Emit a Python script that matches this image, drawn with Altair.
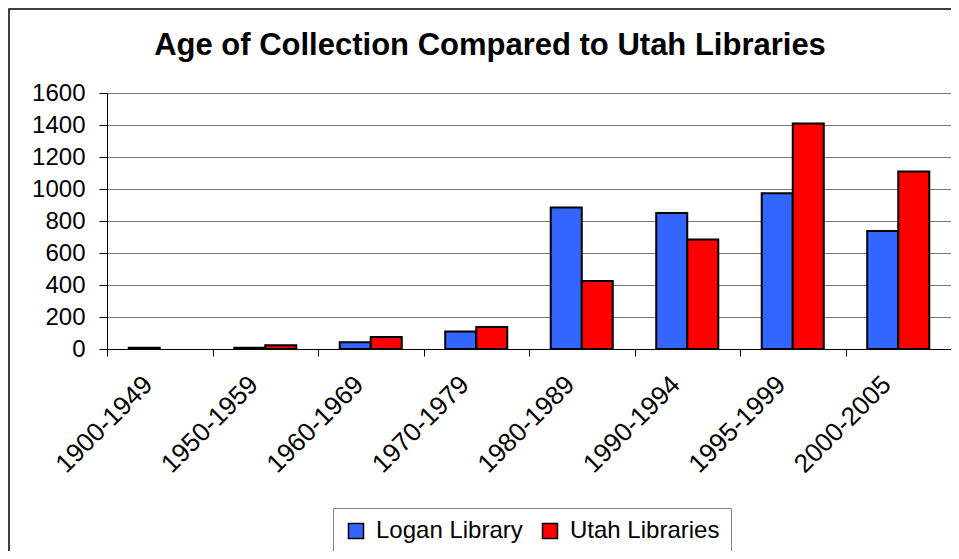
import altair as alt
import pandas as pd

periods = ["1900-1949", "1950-1959", "1960-1969", "1970-1979",
           "1980-1989", "1990-1994", "1995-1999", "2000-2005"]
logan = [8, 8, 42, 110, 885, 850, 973, 737]
utah = [0, 24, 75, 137, 425, 685, 1410, 1110]
series = ["Logan Library", "Utah Libraries"]
colors = ["#3366FF", "#FF0000"]
y_ticks = [0, 200, 400, 600, 800, 1000, 1200, 1400, 1600]

rows = []
for p, l, u in zip(periods, logan, utah):
    rows.append({"period": p, "series": series[0], "value": l})
    rows.append({"period": p, "series": series[1], "value": u})
df = pd.DataFrame(rows)

FONT = "Liberation Sans"

bars = alt.Chart(df).transform_filter("datum.value > 0").mark_bar(
    stroke="black", strokeWidth=2
).encode(
    x=alt.X("period:N", sort=periods,
            scale=alt.Scale(domain=periods, paddingInner=0, paddingOuter=0),
            axis=alt.Axis(title=None, labelAngle=-45, tickBand="extent",
                          grid=False, labelFontSize=26, labelFont=FONT,
                          labelColor="black", labelOffset=-21, labelPadding=15,
                          tickSize=7, tickColor="black", domainColor="black",
                          labelOverlap=False)),
    xOffset=alt.XOffset("series:N", sort=series,
                        scale=alt.Scale(domain=series, paddingInner=0, paddingOuter=0.7)),
    y=alt.Y("value:Q", scale=alt.Scale(domain=[0, 1600], nice=False),
            axis=alt.Axis(title=None, values=y_ticks, format="d", grid=True,
                          gridColor="#777777", gridWidth=1, labelFontSize=24,
                          labelFont=FONT, labelColor="black", labelPadding=14,
                          tickSize=8, tickColor="black", domainColor="black")),
    color=alt.Color("series:N",
                    scale=alt.Scale(domain=series, range=colors),
                    legend=alt.Legend(title=None, orient="none", legendX=226, legendY=415,
                                      direction="horizontal", columns=2,
                                      symbolType="square", symbolSize=225,
                                      symbolStrokeColor="black", symbolStrokeWidth=1.5,
                                      symbolOpacity=1,
                                      labelFontSize=24, labelFont=FONT, labelColor="black",
                                      labelOffset=8, columnPadding=15,
                                      strokeColor="#808080", fillColor="white",
                                      padding=11)),
)

frame = alt.Chart(pd.DataFrame({"a": [0]})).mark_rect(
    fill="transparent", stroke="black", strokeWidth=1.5
).encode(
    x=alt.value(-98), x2=alt.value(1200), y=alt.value(-84), y2=alt.value(800)
)

chart = alt.layer(frame, bars).properties(
    width=844, height=256,
    title=alt.TitleParams("Age of Collection Compared to Utah Libraries",
                          fontSize=31, font=FONT, fontWeight="bold", color="black",
                          anchor="middle", dx=-39, offset=0, dy=78,
                          baseline="alphabetic"),
    autosize=alt.AutoSizeParams(type="none"),
    padding={"left": 99, "top": 85, "right": 0, "bottom": 202},
).configure_view(stroke="#808080", strokeWidth=1).configure(background="white")

chart.save("out.html", embed_options={"renderer": "svg", "actions": False})
